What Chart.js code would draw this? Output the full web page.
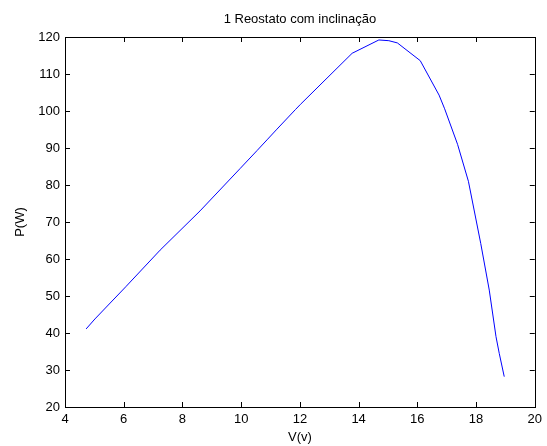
<!DOCTYPE html>
<html>
<head>
<meta charset="utf-8">
<script src="https://cdn.jsdelivr.net/npm/chart.js@4/dist/chart.umd.min.js"></script>
<style>
  body { margin: 0; background: #fff; }
  #wrap { width: 547px; height: 446px; }
</style>
</head>
<body>
<div id="wrap"><canvas id="myChart" width="547" height="446"></canvas></div>
<script>
// values
const voltage = [4.72, 5.02, 6.07, 7.24, 8.6, 9.97, 10.54, 10.88, 11.22, 11.85, 12.02, 13.78, 14.69, 15.03, 15.32, 16.1, 16.74, 16.93, 17.37, 17.74, 18.16, 18.45, 18.68, 18.79, 18.96];
const power = [41.1, 43.8, 52.5, 62.4, 73.0, 84.5, 89.3, 92.2, 95.1, 100.4, 101.8, 115.6, 119.2, 119.0, 118.4, 113.6, 104.3, 100.6, 91.0, 81.0, 64.2, 51.6, 39.0, 34.5, 28.2];
const xTicks = [4, 6, 8, 10, 12, 14, 16, 18, 20];
const yTicks = [20, 30, 40, 50, 60, 70, 80, 90, 100, 110, 120];

const points = voltage.map((v, i) => ({ x: v, y: power[i] }));

// matlab style box with ticks pointing inward
const boxPlugin = {
  id: 'matlabBox',
  afterDraw(chart) {
    const ctx = chart.ctx;
    const a = chart.chartArea;
    const xs = chart.scales.x, ys = chart.scales.y;
    const len = 5;
    ctx.save();
    ctx.strokeStyle = '#000';
    ctx.lineWidth = 1;
    ctx.beginPath();
    xTicks.forEach(t => {
      const px = Math.round(xs.getPixelForValue(t)) + 0.5;
      ctx.moveTo(px, a.bottom); ctx.lineTo(px, a.bottom - len);
      ctx.moveTo(px, a.top); ctx.lineTo(px, a.top + len);
    });
    yTicks.forEach(t => {
      const py = Math.round(ys.getPixelForValue(t)) + 0.5;
      ctx.moveTo(a.left, py); ctx.lineTo(a.left + len, py);
      ctx.moveTo(a.right, py); ctx.lineTo(a.right - len, py);
    });
    ctx.stroke();
    ctx.strokeRect(Math.round(a.left) + 0.5, Math.round(a.top) + 0.5, Math.round(a.right - a.left), Math.round(a.bottom - a.top));
    ctx.restore();
  }
};

const textFont = { family: 'Liberation Sans, Arial, sans-serif', size: 13 };

new Chart(document.getElementById('myChart'), {
  type: 'scatter',
  data: {
    datasets: [{
      data: points,
      showLine: true,
      borderColor: '#0000ff',
      borderWidth: 1,
      pointRadius: 0,
      tension: 0
    }]
  },
  options: {
    responsive: false,
    animation: false,
    layout: { padding: { left: 0, right: 12, top: 0, bottom: 0 } },
    plugins: {
      legend: { display: false },
      tooltip: { enabled: false },
      title: {
        display: true,
        fullSize: false, // center over the plot box, not the canvas
        text: '1 Reostato com inclinação',
        color: '#000',
        font: { family: 'Liberation Sans, Arial, sans-serif', size: 13, weight: 'normal' },
        padding: { top: 12, bottom: 9.4 }
      }
    },
    scales: {
      x: {
        type: 'linear',
        min: 4, max: 20,
        afterBuildTicks: s => { s.ticks = xTicks.map(v => ({ value: v })); },
        afterFit: s => { s.height = 39; },
        grid: { display: false, drawTicks: false },
        border: { display: false },
        ticks: { color: '#000', font: textFont, padding: 5, maxRotation: 0 },
        title: { display: true, text: 'V(v)', color: '#000', font: textFont, padding: { top: 0, bottom: 1 } }
      },
      y: {
        type: 'linear',
        min: 20, max: 120,
        afterBuildTicks: s => { s.ticks = yTicks.map(v => ({ value: v })); },
        afterFit: s => { s.width = 65; },
        grid: { display: false, drawTicks: false },
        border: { display: false },
        ticks: { color: '#000', font: textFont, padding: 5 },
        title: { display: true, text: 'P(W)', color: '#000', font: textFont, padding: { top: 13, bottom: 0 } }
      }
    }
  },
  plugins: [boxPlugin]
});
</script>
</body>
</html>
